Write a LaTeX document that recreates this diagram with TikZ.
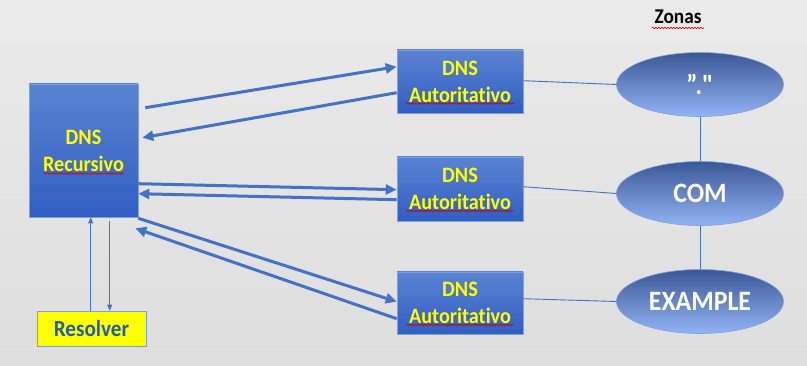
\documentclass[tikz,border=0pt]{standalone}
\usepackage{fontspec}
\setmainfont{Carlito}[FakeStretch=0.92, Ligatures={NoCommon}]
\newfontfamily\zonefont{Carlito}[FakeStretch=0.92, Ligatures={TeXOff,NoCommon}]
\usetikzlibrary{arrows.meta,calc,shapes.geometric,decorations.pathmorphing}
\definecolor{bgtop}{HTML}{EAEAEA}
\definecolor{bgbot}{HTML}{DEDEDE}
\definecolor{boxtop}{HTML}{5B83D3}
\definecolor{boxbot}{HTML}{305EC2}
\definecolor{boxedge}{HTML}{7FA0DC}
\definecolor{arrc}{HTML}{4472C4}
\definecolor{elltop}{HTML}{3B5896}
\definecolor{ellbot}{HTML}{92B3F4}
\definecolor{dnsyel}{HTML}{FFFF00}
\definecolor{resblue}{HTML}{1F5EAE}
\tikzset{
  bluebox/.style={draw=boxedge, line width=0.6pt, top color=boxtop, bottom color=boxbot,
    text=dnsyel, font=\bfseries\fontsize{22}{27}\selectfont, align=center, inner sep=0pt},
  zone/.style={ellipse, draw=boxedge, line width=0.6pt, top color=elltop, bottom color=ellbot,
    text=white, font=\zonefont\bfseries\fontsize{28}{30}\selectfont, minimum width=167pt, minimum height=64pt, inner sep=0pt},
  bigarrow/.style={draw=arrc, line width=3pt, -{Triangle[length=11pt,width=10pt]}},
  thinarrow/.style={draw=arrc, line width=0.9pt, -{Triangle[length=6pt,width=5pt]}},
  thinline/.style={draw=arrc, line width=0.9pt},
  spell/.style={draw=red!80!black, line width=0.6pt, decorate, decoration={snake, amplitude=0.8pt, segment length=3pt}}
}
\begin{document}
\begin{tikzpicture}[x=1pt,y=-1pt]
\useasboundingbox (0,0) rectangle (807,366);
\shade[top color=bgtop, bottom color=bgbot] (0,0) rectangle (807,366);

% nodes
\node[bluebox, minimum width=109pt, minimum height=133pt] (rec) at (83.5,150.5) {DNS\\Recursivo};
\node[draw=boxedge, line width=0.6pt, fill=dnsyel, text=resblue, font=\bfseries\fontsize{23}{26}\selectfont,
  minimum width=109pt, minimum height=35pt, inner sep=0pt] (res) at (91.5,328.5) {Resolver};

\node[bluebox, minimum width=126pt, minimum height=63pt] (a1) at (460,81.5) {DNS\\Autoritativo};
\node[bluebox, minimum width=126pt, minimum height=64pt] (a2) at (460,189) {DNS\\Autoritativo};
\node[bluebox, minimum width=126pt, minimum height=62pt] (a3) at (460,303) {DNS\\Autoritativo};

\node[zone] (z1) at (700,84.5) {”."};
\node[zone] (z2) at (700,193.5) {COM};
\node[zone] (z3) at (700,301.5) {EXAMPLE};

\node[font=\bfseries\fontsize{21}{24}\selectfont, text=black] (zonas) at (678,17) {Zonas};

% spell-check squiggles
\draw[spell] ($(rec.center)+(-40,23)$) -- ($(rec.center)+(40,23)$);
\draw[spell] ($(a1.center)+(-54,22)$) -- ($(a1.center)+(54,22)$);
\draw[spell] ($(a2.center)+(-54,22)$) -- ($(a2.center)+(54,22)$);
\draw[spell] ($(a3.center)+(-54,22)$) -- ($(a3.center)+(54,22)$);
\draw[spell] ($(zonas.center)+(-26,11)$) -- ($(zonas.center)+(26,11)$);

% thick arrows
\draw[bigarrow] ($(rec.north east)+(7,24)$) -- ($(a1.north west)+(0,17)$);
\draw[bigarrow] ($(a1.north west)+(0,43)$) -- ($(rec.north east)+(4,54)$);
\draw[bigarrow] ($(rec.north east)+(0,100)$) -- ($(a2.north west)+(0,33)$);
\draw[bigarrow] ($(a2.north west)+(0,43)$) -- ($(rec.north east)+(0,110)$);
\draw[bigarrow] ($(rec.south east)+(0,1)$) -- ($(a3.north west)+(0,30)$);
\draw[bigarrow] ($(a3.north west)+(0,47)$) -- ($(rec.south east)+(-3,11)$);

% resolver arrows
\draw[thinarrow] ($(res.north west)+(54,0)$) -- ($(rec.south west)+(62,0)$);
\draw[thinarrow] ($(rec.south west)+(81,4)$) -- ($(res.north west)+(73,0)$);

% zone links
\draw[thinline] ($(a1.north east)+(0,31)$) -- (z1.west);
\draw[thinline] ($(a2.north east)+(0,30)$) -- (z2.west);
\draw[thinline] ($(a3.north east)+(0,27)$) -- (z3.west);
\draw[thinline] (z1.south) -- (z2.north);
\draw[thinline] (z2.south) -- (z3.north);
\end{tikzpicture}
\end{document}
